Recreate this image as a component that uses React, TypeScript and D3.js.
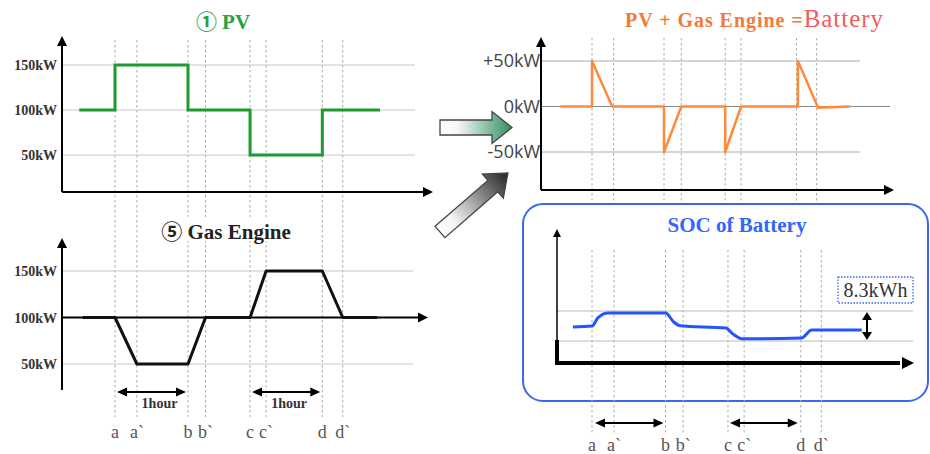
import React from "react";
import * as d3 from "d3";

const eventLabels = ["a", "a`", "b", "b`", "c", "c`", "d", "d`"];
const eventTimes = [0, 0.3, 1, 1.24, 1.85, 2.07, 2.84, 3.12];

const pvTimes = [-0.49, 0, 1, 1.85, 2.84, 3.63];
const pvValues = [100, 150, 100, 50, 100, 100];

const gasTimes = [-0.44, 0, 0.3, 1, 1.24, 1.85, 2.07, 2.84, 3.12, 3.59];
const gasValues = [100, 100, 50, 50, 100, 100, 150, 150, 100, 100];

const batTimes = [-0.44, 0, 0, 0.28, 1, 1, 1.24, 1.85, 1.85, 2.07, 2.86, 2.86, 3.14, 3.58];
const batValues = [0, 0, 50, 0, 0, -50, 0, 0, -50, 0, 0, 50, -1.5, 0];

const socTimes = [-0.26, 0, 0.08, 0.22, 1, 1.11, 1.2, 1.82, 1.92, 2.05, 2.85, 2.99, 3.67];
const socValues = [3.9, 4.15, 6.4, 7.75, 7.75, 5.3, 4.2, 3.6, 1.9, 0.6, 0.85, 3.05, 3.05];

const kwTicks = [50, 100, 150];
const kwTickLabels = ["50kW", "100kW", "150kW"];
const batTicks = [-50, 0, 50];
const batTickLabels = ["-50kW", "0kW", "+50kW"];
const socGrid = [0, 8.3];
const socGapLabel = "8.3kWh";
const hourLabel = "1hour";

const SERIF = "'Liberation Serif', 'DejaVu Serif', 'Noto Sans CJK JP', serif";
const SANS = "'Open Sans', 'Noto Sans', sans-serif";

const xLeft = d3.scaleLinear().domain([0, 1]).range([115, 188]);
const xRight = d3.scaleLinear().domain([0, 1]).range([592, 664]);
const xSoc = d3.scaleLinear().domain([0, 1]).range([592, 665.5]);
const yPv = d3.scaleLinear().domain([50, 150]).range([155, 65]);
const yGas = d3.scaleLinear().domain([50, 150]).range([364, 271]);
const yBat = d3.scaleLinear().domain([-50, 50]).range([152, 61]);
const ySoc = d3.scaleLinear().domain([0, 8.3]).range([341, 311]);

function ArrowUp({ x, y, s = 5 }: { x: number; y: number; s?: number }) {
  return <polygon points={`${x},${y} ${x - s},${y + 2 * s} ${x + s},${y + 2 * s}`} fill="#000" />;
}
function ArrowRight({ x, y, s = 5 }: { x: number; y: number; s?: number }) {
  return <polygon points={`${x},${y} ${x - 2 * s},${y - s} ${x - 2 * s},${y + s}`} fill="#000" />;
}

function DoubleArrowH({ x1, x2, y }: { x1: number; x2: number; y: number }) {
  return (
    <g>
      <line x1={x1 + 8} x2={x2 - 8} y1={y} y2={y} stroke="#000" strokeWidth={2} />
      <polygon points={`${x1},${y} ${x1 + 10},${y - 4.5} ${x1 + 10},${y + 4.5}`} fill="#000" />
      <polygon points={`${x2},${y} ${x2 - 10},${y - 4.5} ${x2 - 10},${y + 4.5}`} fill="#000" />
    </g>
  );
}

function BlockArrow({ x, y, angle, len, fillId }: { x: number; y: number; angle: number; len: number; fillId: string }) {
  const sw = 7.5, hw = 16, hl = 20;
  const pts = [
    [0, -sw], [len - hl, -sw], [len - hl, -hw], [len, 0], [len - hl, hw], [len - hl, sw], [0, sw],
  ].map((p) => p.join(",")).join(" ");
  return (
    <g transform={`translate(${x},${y}) rotate(${angle})`}>
      <polygon points={pts} fill={`url(#${fillId})`} stroke="#444" strokeWidth={1.3} />
    </g>
  );
}

export default function App() {
  const linePv = d3.line<number>().x((_, i) => xLeft(pvTimes[i])).y((v) => yPv(v)).curve(d3.curveStepAfter);
  const lineGas = d3.line<number>().x((_, i) => xLeft(gasTimes[i])).y((v) => yGas(v));
  const lineBat = d3.line<number>().x((_, i) => xRight(batTimes[i])).y((v) => yBat(v));
  const lineSoc = d3.line<number>().x((_, i) => xSoc(socTimes[i])).y((v) => ySoc(v)).curve(d3.curveMonotoneX);

  const dash = "2.5,2.5";
  return (
    <svg width={930} height={454} style={{ position: "absolute", left: 0, top: 0, background: "#fff" }}>
      <defs>
        <linearGradient id="gGreen" x1="0" x2="1" y1="0" y2="0">
          <stop offset="0" stopColor="#ffffff" />
          <stop offset="0.25" stopColor="#f4f8f6" />
          <stop offset="1" stopColor="#2f8f63" />
        </linearGradient>
        <linearGradient id="gGray" x1="0" x2="1" y1="0" y2="0">
          <stop offset="0" stopColor="#ffffff" />
          <stop offset="0.2" stopColor="#f4f4f4" />
          <stop offset="1" stopColor="#222222" />
        </linearGradient>
      </defs>

      {/* ===== Left: vertical event lines ===== */}
      {eventTimes.map((t, i) => (
        <line key={"lv" + i} x1={xLeft(t)} x2={xLeft(t)} y1={40} y2={417} stroke="#aaa" strokeWidth={1} strokeDasharray={dash} />
      ))}

      {/* ===== PV panel ===== */}
      <text x={223} y={29} textAnchor="middle" fontFamily={SERIF} fontWeight="bold" fontSize={21} fill="#2aa044">① PV</text>
      {kwTicks.map((v, i) => (
        <g key={"pvt" + i}>
          <line x1={62} x2={415} y1={yPv(v)} y2={yPv(v)} stroke="#c8c8c8" strokeWidth={1} />
          <text x={57} y={yPv(v) + 5} textAnchor="end" fontFamily={SERIF} fontWeight="bold" fontSize={14} fill="#333">{kwTickLabels[i]}</text>
        </g>
      ))}
      <line x1={62} x2={62} y1={192} y2={44} stroke="#000" strokeWidth={2} />
      <ArrowUp x={62} y={36} />
      <line x1={62} x2={424} y1={192} y2={192} stroke="#000" strokeWidth={2} />
      <ArrowRight x={433} y={192} />
      <path d={linePv(pvValues) || ""} fill="none" stroke="#1f9a30" strokeWidth={3} />

      {/* ===== Gas Engine panel ===== */}
      <rect x={158} y={217} width={138} height={24} fill="#fff" />
      <text x={226} y={239} textAnchor="middle" fontFamily={SERIF} fontWeight="bold" fontSize={21} fill="#222">⑤ Gas Engine</text>
      {kwTicks.map((v, i) => (
        <g key={"gt" + i}>
          {v !== 100 && <line x1={62} x2={413} y1={yGas(v)} y2={yGas(v)} stroke="#c8c8c8" strokeWidth={1} />}
          <text x={57} y={yGas(v) + 5} textAnchor="end" fontFamily={SERIF} fontWeight="bold" fontSize={14} fill="#333">{kwTickLabels[i]}</text>
        </g>
      ))}
      <line x1={62} x2={62} y1={390} y2={246} stroke="#000" strokeWidth={2} />
      <ArrowUp x={62} y={238} />
      <line x1={62} x2={419} y1={yGas(100)} y2={yGas(100)} stroke="#000" strokeWidth={2} />
      <ArrowRight x={428} y={yGas(100)} />
      <path d={lineGas(gasValues) || ""} fill="none" stroke="#111" strokeWidth={3} strokeLinejoin="round" />

      <DoubleArrowH x1={xLeft(eventTimes[0]) + 2} x2={xLeft(eventTimes[2]) - 2} y={392} />
      <DoubleArrowH x1={xLeft(eventTimes[4]) + 2} x2={xLeft(eventTimes[6]) - 2} y={392} />
      <text x={(xLeft(eventTimes[0]) + xLeft(eventTimes[2])) / 2 + 8} y={408} textAnchor="middle" fontFamily={SERIF} fontWeight="bold" fontSize={14} fill="#333">{hourLabel}</text>
      <text x={(xLeft(eventTimes[4]) + xLeft(eventTimes[6])) / 2 + 3} y={408} textAnchor="middle" fontFamily={SERIF} fontWeight="bold" fontSize={14} fill="#333">{hourLabel}</text>
      {eventTimes.map((t, i) => (
        <text key={"ll" + i} x={xLeft(t)} y={438} textAnchor="middle" fontFamily={SERIF} fontSize={18} fill="#555">{eventLabels[i]}</text>
      ))}

      {/* ===== Right top: battery power ===== */}
      <text x={625} y={27} fontFamily={SERIF} fontSize={20} fill="#f47a3a" textLength={258} lengthAdjust="spacing">
        <tspan fontWeight="bold">PV + Gas Engine =</tspan>
        <tspan fontSize={25} fill="#f25c5c">Battery</tspan>
      </text>
      {eventTimes.map((t, i) => (
        <line key={"rv" + i} x1={xRight(t)} x2={xRight(t)} y1={38} y2={205} stroke="#aaa" strokeWidth={1} strokeDasharray={dash} />
      ))}
      {batTicks.map((v, i) => (
        <g key={"bt" + i}>
          <line x1={541} x2={v === 0 ? 890 : 860} y1={yBat(v)} y2={yBat(v)} stroke={v === 0 ? "#888" : "#aaa"} strokeWidth={1} />
          <text x={540} y={yBat(v) + 6} textAnchor="end" fontFamily={SANS} fontSize={18} fill="#444">{batTickLabels[i]}</text>
        </g>
      ))}
      <line x1={541} x2={541} y1={190} y2={44} stroke="#000" strokeWidth={2} />
      <ArrowUp x={541} y={37} />
      <line x1={541} x2={885} y1={190} y2={190} stroke="#000" strokeWidth={2} />
      <ArrowRight x={894} y={190} />
      <path d={lineBat(batValues) || ""} fill="none" stroke="#ff8a3d" strokeWidth={2.5} strokeLinejoin="round" />

      {/* block arrows */}
      <BlockArrow x={440} y={127.5} angle={0} len={72} fillId="gGreen" />
      <BlockArrow x={440} y={232} angle={-41} len={90} fillId="gGray" />

      {/* ===== SOC panel ===== */}
      <rect x={523} y={204} width={405} height={197} rx={20} ry={20} fill="#fff" stroke="#3a66f0" strokeWidth={2} />
      <text x={737} y={232} textAnchor="middle" fontFamily={SERIF} fontWeight="bold" fontSize={21} fill="#3366ff">SOC of Battery</text>
      {eventTimes.map((t, i) => (
        <line key={"sv" + i} x1={xSoc(t)} x2={xSoc(t)} y1={250} y2={433} stroke="#aaa" strokeWidth={1} strokeDasharray={dash} />
      ))}
      {socGrid.map((v, i) => (
        <line key={"sg" + i} x1={557} x2={913} y1={ySoc(v)} y2={ySoc(v)} stroke="#bbb" strokeWidth={1} />
      ))}
      <line x1={557} x2={557} y1={363} y2={236} stroke="#000" strokeWidth={1.5} />
      <line x1={557} x2={557} y1={365} y2={340} stroke="#000" strokeWidth={4} />
      <ArrowUp x={557} y={229} s={4} />
      <line x1={555} x2={900} y1={363} y2={363} stroke="#000" strokeWidth={4} />
      <ArrowRight x={914} y={363} s={6} />
      <path d={lineSoc(socValues) || ""} fill="none" stroke="#2255ff" strokeWidth={3} strokeLinejoin="round" />
      {/* 8.3kWh gap marker */}
      <line x1={867} x2={867} y1={ySoc(socGrid[1]) + 6} y2={ySoc(socGrid[0]) - 6} stroke="#000" strokeWidth={2} />
      <polygon points={`867,${ySoc(socGrid[1]) + 1} 862,${ySoc(socGrid[1]) + 9} 872,${ySoc(socGrid[1]) + 9}`} fill="#000" />
      <polygon points={`867,${ySoc(socGrid[0]) - 1} 862,${ySoc(socGrid[0]) - 9} 872,${ySoc(socGrid[0]) - 9}`} fill="#000" />
      <rect x={838} y={277} width={75} height={26} fill="#fff" stroke="#3a66f0" strokeWidth={1.3} strokeDasharray="1.5,1.5" />
      <text x={875.5} y={297} textAnchor="middle" fontFamily={SERIF} fontSize={20} fill="#333">{socGapLabel}</text>

      <DoubleArrowH x1={xSoc(eventTimes[0]) + 3} x2={xSoc(eventTimes[2]) - 2} y={423} />
      <DoubleArrowH x1={xSoc(eventTimes[4]) + 2} x2={xSoc(eventTimes[6]) - 3} y={423} />
      {eventTimes.map((t, i) => (
        <text key={"rl" + i} x={xSoc(t)} y={451} textAnchor="middle" fontFamily={SERIF} fontSize={18} fill="#555">{eventLabels[i]}</text>
      ))}
    </svg>
  );
}
